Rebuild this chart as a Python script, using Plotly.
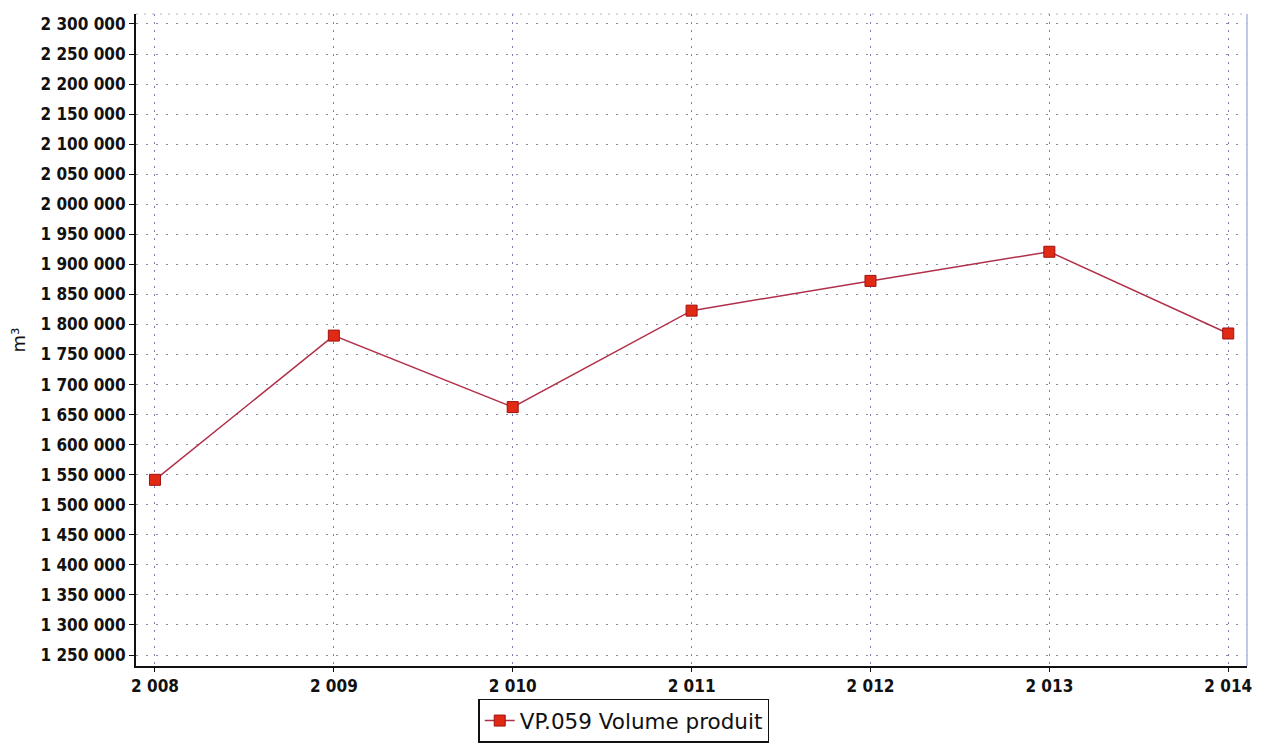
import plotly.graph_objects as go

years = [2008, 2009, 2010, 2011, 2012, 2013, 2014]
year_labels = ["2 008", "2 009", "2 010", "2 011", "2 012", "2 013", "2 014"]
volumes = [1541500, 1781500, 1662500, 1823000, 1872500, 1921000, 1785000]
series_name = "VP.059 Volume produit"
y_ticks = list(range(1250000, 2300001, 50000))
y_tick_labels = ["{:,}".format(v).replace(",", " ") for v in y_ticks]

fig = go.Figure()
fig.add_trace(go.Scatter(
    x=years, y=volumes, mode="lines+markers", name=series_name,
    line=dict(color="#b0304a", width=1.5),
    marker=dict(symbol="square", size=11, color="#e02a14",
                line=dict(color="#a01010", width=1)),
))

tick_font = dict(family="DejaVu Sans Condensed", size=17, color="#111", weight="bold")

fig.update_layout(
    width=1254, height=737,
    margin=dict(l=128, r=15, t=6, b=79, autoexpand=False),
    plot_bgcolor="white", paper_bgcolor="white",
    showlegend=True,
    legend=dict(x=0.439, y=-0.05, xanchor="center", yanchor="top",
                bordercolor="#111", borderwidth=1.5,
                font=dict(family="DejaVu Sans", size=21.5, color="#111"),
                itemwidth=30, tracegroupgap=0),
    xaxis=dict(range=[2007.894, 2014.105], tickvals=years, ticktext=year_labels,
               tickfont=tick_font, showgrid=True, gridcolor="#7c7cb8",
               griddash="2px,6px", gridwidth=1, showline=True, linecolor="#111",
               linewidth=2, ticks="outside", ticklen=4, tickcolor="#111",
               zeroline=False),
    yaxis=dict(range=[1231700, 2316600], tickvals=y_ticks, ticktext=y_tick_labels,
               tickfont=tick_font, showgrid=True, gridcolor="#8a8a9a",
               griddash="2px,8px", gridwidth=1, showline=True, linecolor="#111",
               linewidth=2, ticks="outside", ticklen=5, tickcolor="#111",
               zeroline=False,
               title=dict(text="m³", font=dict(family="DejaVu Sans", size=18, color="#111"),
                          standoff=14)),
    shapes=[
        dict(type="line", xref="paper", yref="paper", x0=1, x1=1, y0=0, y1=1,
             line=dict(color="#a8b8e0", width=1.5)),
        dict(type="line", xref="paper", yref="paper", x0=0, x1=1, y0=1, y1=1,
             line=dict(color="#b0b0c0", width=1, dash="2px,6px")),
    ],
)

fig.write_html("out.html")
